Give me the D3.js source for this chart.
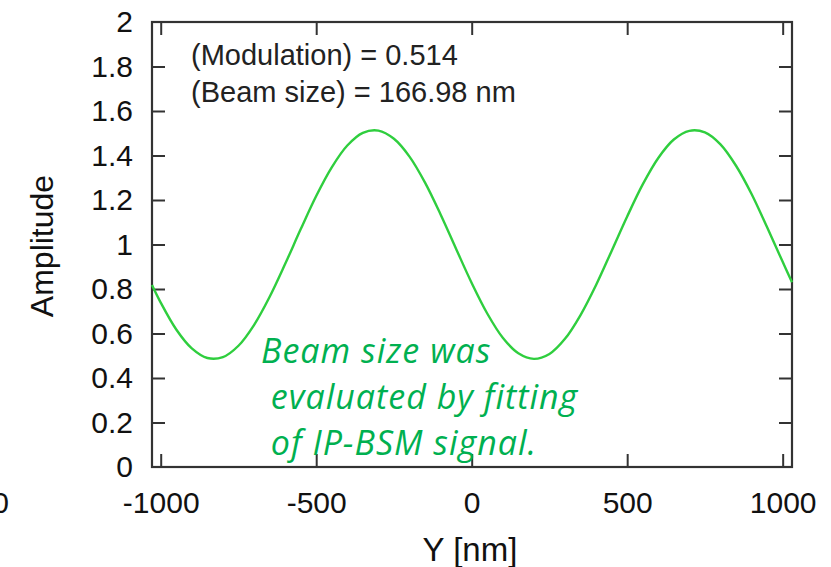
<!DOCTYPE html>
<html>
<head>
<meta charset="utf-8">
<script src="https://cdn.jsdelivr.net/npm/d3@7"></script>
<style>
  html, body { margin: 0; padding: 0; background: #fff; }
  svg { display: block; }
</style>
</head>
<body>
<svg id="chart" width="831" height="567"></svg>
<script>
// ---- data ----
const yPositions = [-1028, -1000, -950, -900, -850, -800, -750, -700, -650, -600, -550, -500, -450, -400, -350, -300, -250, -200, -150, -100, -50, 0, 50, 100, 150, 200, 250, 300, 350, 400, 450, 500, 550, 600, 650, 700, 750, 800, 850, 900, 950, 1000, 1030];
const amplitudes = [0.818, 0.739, 0.618, 0.533, 0.490, 0.494, 0.545, 0.638, 0.764, 0.912, 1.068, 1.218, 1.347, 1.445, 1.502, 1.512, 1.475, 1.395, 1.278, 1.135, 0.980, 0.827, 0.690, 0.581, 0.511, 0.486, 0.508, 0.576, 0.683, 0.818, 0.971, 1.126, 1.270, 1.389, 1.472, 1.511, 1.504, 1.450, 1.354, 1.227, 1.077, 0.922, 0.830];
const xTicks = [-1000, -500, 0, 500, 1000];
const yTicks = [0, 0.2, 0.4, 0.6, 0.8, 1, 1.2, 1.4, 1.6, 1.8, 2];
const infoLines = ["(Modulation) = 0.514", "(Beam size) = 166.98 nm"];
const noteLines = ["Beam size was", " evaluated by fitting", " of IP-BSM signal."];
const xLabel = "Y [nm]";
const yLabel = "Amplitude";

// ---- layout ----
const svg = d3.select("#chart");
const L = 152, R = 792, T = 22, B = 467;
const x = d3.scaleLinear().domain([-1028, 1030]).range([L, R]);
const y = d3.scaleLinear().domain([0, 2]).range([B, T]);
const axisColor = "#333";
const tickLen = 13;
const font = "'Liberation Sans', Arial, Helvetica, sans-serif";

// bottom axis (ticks inward)
const gB = svg.append("g").attr("transform", `translate(0,${B})`)
  .call(d3.axisBottom(x).tickValues(xTicks).tickSizeInner(-tickLen).tickSizeOuter(0).tickFormat(d => String(d)));
// top axis mirrored ticks
const gT = svg.append("g").attr("transform", `translate(0,${T})`)
  .call(d3.axisTop(x).tickValues(xTicks).tickSizeInner(-tickLen).tickSizeOuter(0).tickFormat(""));
// left axis
const gL = svg.append("g").attr("transform", `translate(${L},0)`)
  .call(d3.axisLeft(y).tickValues(yTicks).tickSizeInner(-tickLen).tickSizeOuter(0).tickPadding(tickLen + 6).tickFormat(d => String(+d.toFixed(1))));
// right axis mirrored
const gR = svg.append("g").attr("transform", `translate(${R},0)`)
  .call(d3.axisRight(y).tickValues(yTicks).tickSizeInner(-tickLen).tickSizeOuter(0).tickFormat(""));

[gB, gT, gL, gR].forEach(g => {
  g.select(".domain").remove();
  g.selectAll(".tick line").attr("stroke", axisColor).attr("stroke-width", 2);
  g.selectAll(".tick text").attr("fill", "#111").style("font-family", font).style("font-size", "30px");
});
gB.selectAll(".tick text").attr("dy", "0.35em").attr("y", 35);
gL.selectAll(".tick").filter(d => d === 0 || d === 2).select("line").remove();
gR.selectAll(".tick").filter(d => d === 0 || d === 2).select("line").remove();

// frame
svg.append("rect").attr("x", L).attr("y", T).attr("width", R - L).attr("height", B - T)
  .attr("fill", "none").attr("stroke", axisColor).attr("stroke-width", 2.2);

// curve
const pts = yPositions.map((v, i) => [v, amplitudes[i]]);
svg.append("path").datum(pts)
  .attr("fill", "none").attr("stroke", "#2fce3e").attr("stroke-width", 2.4)
  .attr("d", d3.line().x(d => x(d[0])).y(d => y(d[1])).curve(d3.curveCatmullRom.alpha(0.5)));

// info text
svg.append("g").selectAll("text").data(infoLines).join("text")
  .attr("x", 191).attr("y", (d, i) => 65 + i * 37)
  .style("font-family", font).style("font-size", "29px").attr("fill", "#222")
  .text(d => d);

// note text (green italic)
svg.append("g").selectAll("text").data(noteLines).join("text")
  .attr("x", 261).attr("y", (d, i) => 363 + i * 46)
  .attr("xml:space", "preserve").style("white-space", "pre")
  .style("font-family", "'Open Sans', Lato, sans-serif").style("font-style", "italic")
  .style("font-size", "34px").style("letter-spacing", "1px").attr("fill", "#00b050")
  .text(d => d);

// axis labels
svg.append("text").attr("x", 470).attr("y", 561).attr("text-anchor", "middle")
  .style("font-family", font).style("font-size", "33px").attr("fill", "#111").text(xLabel);
svg.append("text").attr("transform", `translate(53,246) rotate(-90)`).attr("text-anchor", "middle")
  .style("font-family", font).style("font-size", "32px").attr("fill", "#111").text(yLabel);

// partial "0" cut at left edge (remnant of neighbouring figure, as in the reference)
svg.append("text").attr("x", 9).attr("y", 513).attr("text-anchor", "end")
  .style("font-family", font).style("font-size", "30px").attr("fill", "#111").text("0");
</script>
</body>
</html>
